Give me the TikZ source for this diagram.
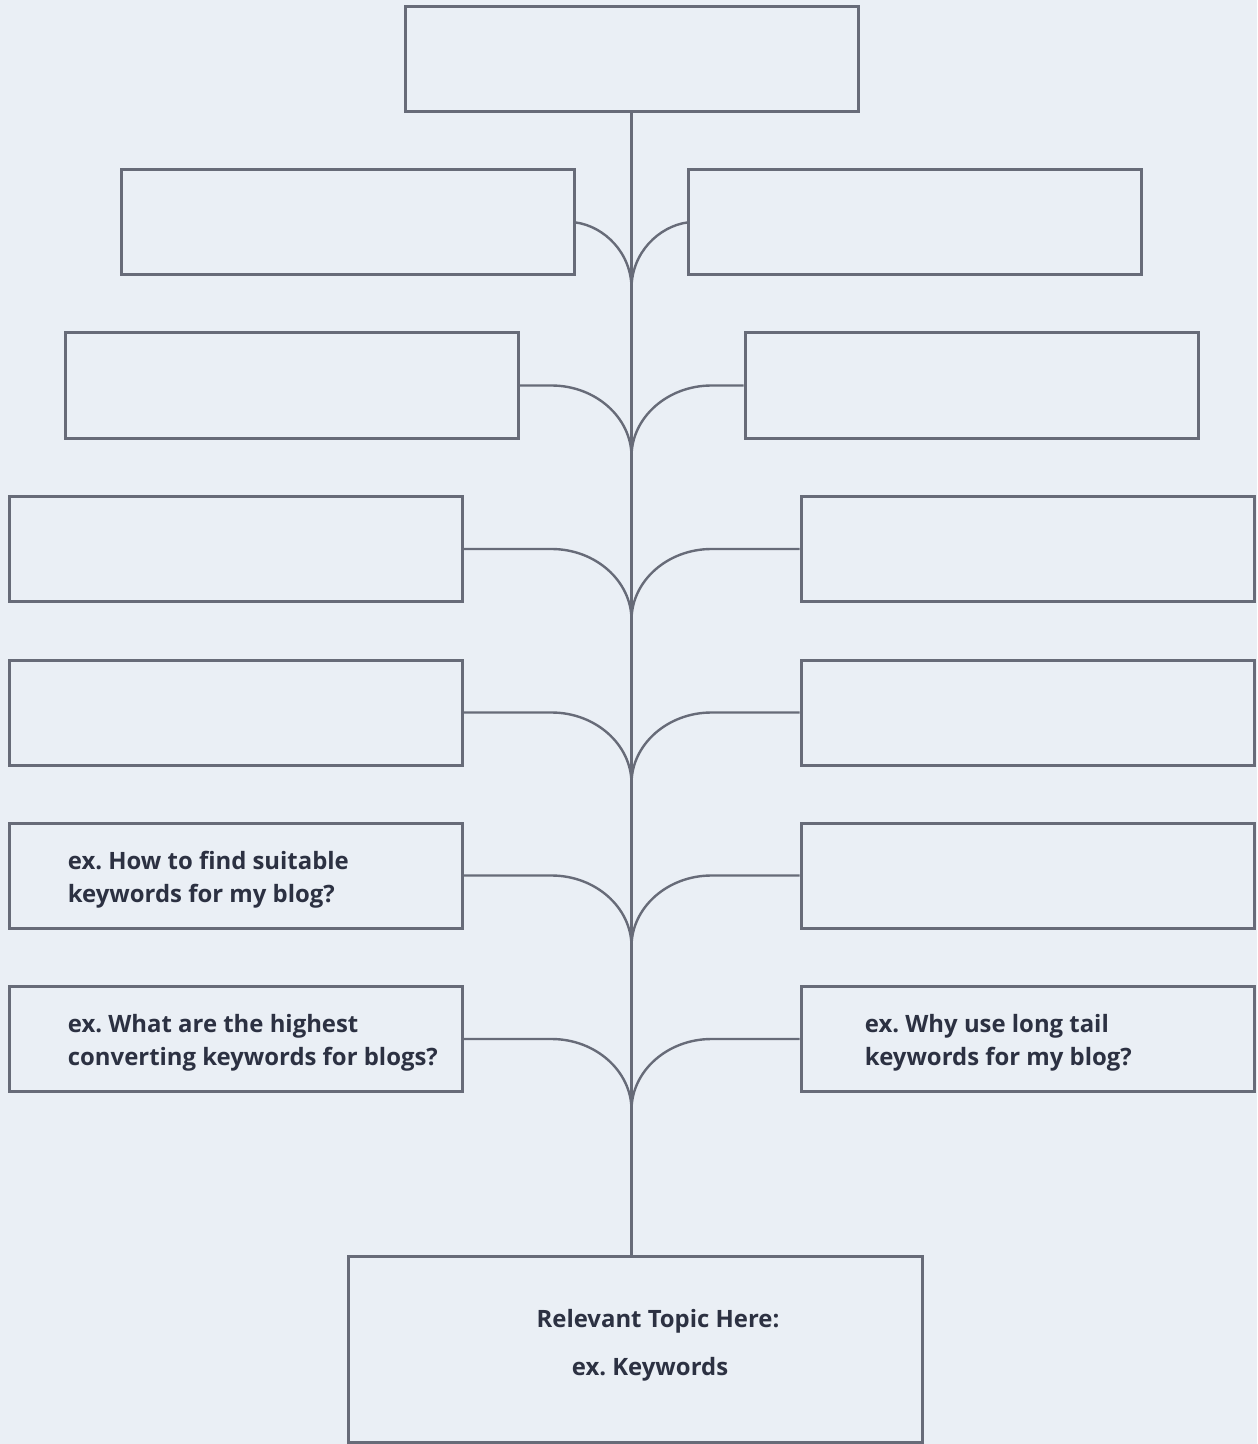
\documentclass[tikz,border=0pt]{standalone}
\usepackage{fontspec}
\setmainfont{Open Sans}
\usepackage{tikz}
\usetikzlibrary{arrows.meta, positioning, calc}
\definecolor{PaperBlue}{HTML}{EAEFF5}
\definecolor{FrameGray}{HTML}{676B78}
\definecolor{InkNavy}{HTML}{2C3142}
\frenchspacing
\tikzset{
  qbox/.style={draw=FrameGray, line width=1.5pt, rectangle, minimum width=226.5pt, minimum height=52.5pt, inner sep=0pt},
  topicbox/.style={draw=FrameGray, line width=1.5pt, rectangle, minimum width=287pt, minimum height=93pt, inner sep=0pt},
  qtext/.style={text=InkNavy, align=left, inner sep=0pt, font=\fontsize{11.95}{16.5}\selectfont\bfseries},
  trunk/.style={draw=FrameGray, line width=1.2pt},
  branch/.style={draw=FrameGray, line width=1.2pt}
}

\begin{document}
\begin{tikzpicture}[x=0.5pt, y=-0.5pt]
\fill[PaperBlue] (0,0) rectangle (1257,1444);
\useasboundingbox (0,0) rectangle (1257,1444);
% boxes
\node[qbox] (top) at (631.5,59) {};
\node[qbox] (l1) at (348,222.5) {};
\node[qbox] (r1) at (915,222.5) {};
\node[qbox] (l2) at (291.5,385.5) {};
\node[qbox] (r2) at (971.5,385.5) {};
\foreach \n/\y in {3/549, 4/712.5, 5/875.5, 6/1039} {
  \node[qbox] (l\n) at (235.5,\y) {};
  \node[qbox] (r\n) at (1027.5,\y) {};
}
\node[topicbox] (topic) at (635,1349) {};
% texts
\node[qtext, anchor=west] (q5) at ($(l5.west)+(60,4)$) {ex. How to find suitable\\keywords for my blog?};
\node[qtext, anchor=west] (q6) at ($(l6.west)+(60,4)$) {ex. What are the highest\\converting keywords for blogs?};
\node[qtext, anchor=west] (p6) at ($(r6.west)+(65,4)$) {ex. Why use long tail\\keywords for my blog?};
\node[qtext, align=center] (topictext) at (658,1345) {Relevant Topic Here:\\[7.5pt]ex. Keywords\hspace*{8pt}};
% trunk
\draw[trunk] (top.south) -- (top.south |- topic.north);
% branches
\draw[branch] (l1.east) .. controls +(28,4) and +(0,-36) .. ($(top.south |- l1.east)+(0,66)$);
\draw[branch] (r1.west) .. controls +(-28,4) and +(0,-36) .. ($(top.south |- r1.east)+(0,66)$);
\foreach \n in {2,...,6} {
  \draw[branch] (l\n.east) -- ($(top.south |- l\n.east)+(-80,0)$)
    .. controls +(44,0) and +(0,-39) .. ($(top.south |- l\n.east)+(0,71)$);
  \draw[branch] (r\n.west) -- ($(top.south |- r\n.west)+(80,0)$)
    .. controls +(-44,0) and +(0,-39) .. ($(top.south |- r\n.west)+(0,71)$);
}
\end{tikzpicture}
\end{document}
